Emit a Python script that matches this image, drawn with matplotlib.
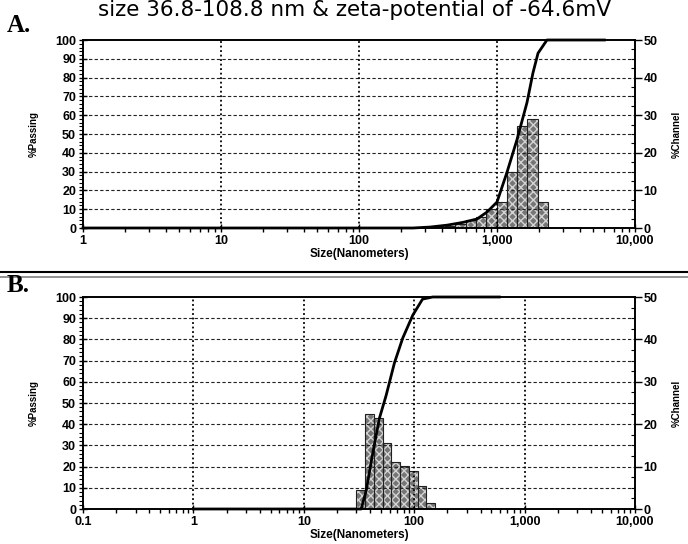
import matplotlib
matplotlib.use('Agg')
import matplotlib.pyplot as plt
from matplotlib.lines import Line2D
from matplotlib.font_manager import FontProperties
from matplotlib.ticker import FixedLocator, FixedFormatter, MultipleLocator, LogLocator, NullFormatter
import numpy as np

title = "size 36.8-108.8 nm & zeta-potential of -64.6mV"

# Panel A data
a_bin_edges = [420, 499, 592, 703, 835, 992, 1178, 1399, 1662, 1973, 2343]
a_channel = [0.5, 1.0, 2.0, 3.0, 5.0, 7.0, 15.0, 27.0, 29.0, 7.0]
a_curve_size = [1, 246, 327, 434, 568, 717, 847, 1000, 1181, 1396, 1649, 1822, 1983, 2302, 6000]
a_curve_pass = [0, 0, 0.5, 1.5, 3, 4.8, 8.5, 13.8, 29.6, 47, 66.7, 82.5, 93, 100, 100]
a_xticks = [1, 10, 100, 1000, 10000]
a_xticklabels = ['1', '10', '100', '1,000', '10,000']

# Panel B data
b_bin_edges = [30, 36, 43.2, 51.8, 62.2, 74.6, 89.6, 107.5, 129, 154.8]
b_channel = [4.5, 22.3, 21.4, 15.6, 11.0, 10.2, 9.0, 5.4, 1.4]
b_curve_size = [1, 33.1, 36.7, 42.2, 48.4, 55.7, 66.2, 78.7, 97, 119, 147, 590]
b_curve_pass = [0, 0, 8.6, 26.6, 42.8, 53.6, 68.9, 80.6, 91.4, 99, 100, 100]
b_xticks = [0.1, 1, 10, 100, 1000, 10000]
b_xticklabels = ['0.1', '1', '10', '100', '1,000', '10,000']

left_ticks = list(range(0, 101, 10))
right_ticks = list(range(0, 51, 10))

W, H = 688, 544
fig = plt.figure(figsize=(W / 100, H / 100), dpi=100)

tick_fp = FontProperties(family='Liberation Sans', weight='bold', size=9)


def panel(rect, edges, channel, csize, cpass, xticks, xlabels):
    ax = fig.add_axes(rect)
    ax2 = ax.twinx()
    ax.set_zorder(ax2.get_zorder() + 1)
    ax.patch.set_visible(False)
    ax.set_xscale('log')
    ax.set_xlim(xticks[0], xticks[-1])
    ax.set_ylim(0, 100)
    ax2.set_ylim(0, 50)

    edges = np.array(edges, dtype=float)
    widths = np.diff(edges)
    ax2.bar(edges[:-1], channel, width=widths, align='edge', facecolor='#767676',
            edgecolor='#d4d4d4', hatch='xxxx', linewidth=0)
    ax2.bar(edges[:-1], channel, width=widths, align='edge', facecolor='none',
            edgecolor='#202020', linewidth=0.8)

    ax.plot(csize, cpass, color='black', lw=2.0, solid_joinstyle='round', zorder=5, clip_on=False)

    for y in left_ticks[1:-1]:
        ax.axhline(y, color='#222222', lw=0.8, ls=(0, (3, 2)), zorder=1)
    for x in xticks[1:-1]:
        ax.axvline(x, color='black', lw=1.3, ls=(0, (1, 1.5)), zorder=1)

    ax.xaxis.set_major_locator(FixedLocator(xticks))
    ax.xaxis.set_major_formatter(FixedFormatter(xlabels))
    ax.xaxis.set_minor_locator(LogLocator(base=10, subs=np.arange(2, 10)))
    ax.xaxis.set_minor_formatter(NullFormatter())
    ax.tick_params(axis='x', which='major', direction='inout', length=6, width=1, pad=2)
    ax.tick_params(axis='x', which='minor', direction='out', length=3, width=1)

    ax.yaxis.set_major_locator(FixedLocator(left_ticks))
    ax.yaxis.set_minor_locator(MultipleLocator(2))
    ax.tick_params(axis='y', which='major', direction='inout', length=6, width=1, pad=2)
    ax.tick_params(axis='y', which='minor', direction='out', length=3, width=0.8)

    ax2.yaxis.set_major_locator(FixedLocator(right_ticks))
    ax2.yaxis.set_minor_locator(MultipleLocator(2.5))
    ax2.tick_params(axis='y', which='major', direction='out', length=5, width=1, pad=1)
    ax2.tick_params(axis='y', which='minor', direction='in', length=3, width=0.8)

    for lab in ax.get_xticklabels() + ax.get_yticklabels() + ax2.get_yticklabels():
        lab.set_fontproperties(tick_fp)

    for a in (ax, ax2):
        for s in a.spines.values():
            s.set_linewidth(1.2)
            s.set_color('black')

    ax.set_xlabel('Size(Nanometers)', family='Liberation Sans', weight='bold', size=8.5, labelpad=1)
    ax.set_ylabel('%Passing', family='Liberation Sans', weight='bold', size=7, labelpad=12)
    ax2.set_ylabel('%Channel', family='Liberation Sans', weight='bold', size=7, labelpad=10)
    return ax, ax2


panel([83 / W, 1 - 228 / H, (635 - 83) / W, (228 - 40) / H],
      a_bin_edges, a_channel, a_curve_size, a_curve_pass, a_xticks, a_xticklabels)
panel([83 / W, 1 - 509 / H, (635 - 83) / W, (509 - 297) / H],
      b_bin_edges, b_channel, b_curve_size, b_curve_pass, b_xticks, b_xticklabels)

fig.text(355 / W, 1 - 16 / H, title, ha='center', va='baseline', family='DejaVu Sans', size=15.5)
fig.text(7 / W, 1 - 32 / H, 'A.', ha='left', va='baseline', family='Liberation Serif', weight='bold', size=18)
fig.text(7 / W, 1 - 292 / H, 'B.', ha='left', va='baseline', family='Liberation Serif', weight='bold', size=18)

fig.add_artist(Line2D([0, 1], [1 - 272 / H] * 2, color='black', lw=1.5))
fig.add_artist(Line2D([0, 1], [1 - 277 / H] * 2, color='#808080', lw=1.2))

fig.savefig('out.png', dpi=100)
